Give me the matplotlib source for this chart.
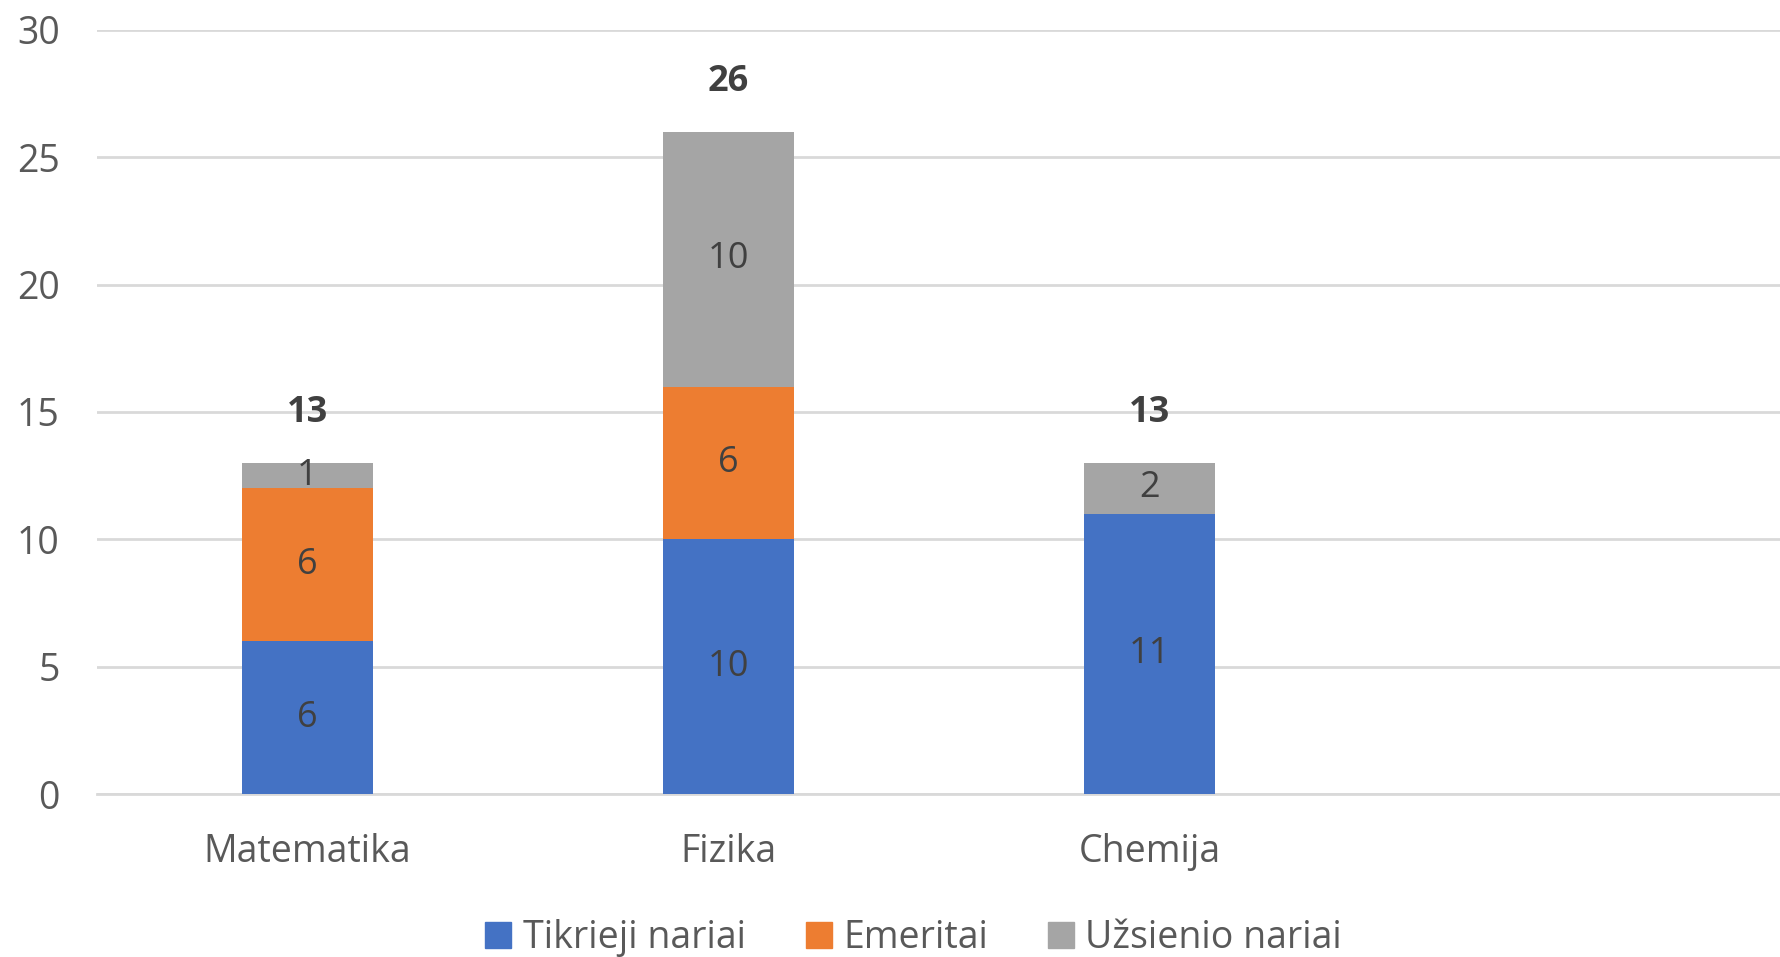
import numpy as np
import matplotlib.pyplot as plt
from matplotlib.patches import Patch

# Datos
kategorijos = ['Matematika', 'Fizika', 'Chemija', '']
tikrieji = [6, 10, 11, 0]
emeritai = [6, 6, 0, 0]
uzsienio = [1, 10, 2, 0]
serijos = ['Tikrieji nariai', 'Emeritai', 'Užsienio nariai']
spalvos = ['#4472C4', '#ED7D31', '#A5A5A5']

plt.rcParams['font.family'] = ['Open Sans', 'DejaVu Sans']

fig = plt.figure(figsize=(17.81, 9.57), dpi=100)
ax = fig.add_axes([0.0545, 0.1703, 0.9455, 0.7984])

x = np.arange(len(kategorijos))
w = 0.313
duomenys = [tikrieji, emeritai, uzsienio]
apacia = np.zeros(len(kategorijos))
for vals, sp in zip(duomenys, spalvos):
    vals = np.array(vals, dtype=float)
    bars = ax.bar(x, vals, w, bottom=apacia, color=sp, zorder=3)
    for b, v, a in zip(bars, vals, apacia):
        if v > 0:
            ax.text(b.get_x() + b.get_width() / 2, a + v / 2, f'{int(v)}',
                    ha='center', va='center', fontsize=26, color='#404040', zorder=4)
    apacia += vals

for xi, t in zip(x, apacia):
    if t > 0:
        ax.annotate(f'{int(t)}', (xi, t), xytext=(0, 36), textcoords='offset points',
                    ha='center', va='center', fontsize=26, fontweight='bold', color='#404040')

ax.set_xlim(-0.5, len(kategorijos) - 0.5)
ax.set_ylim(0, 30)
ax.set_yticks(range(0, 31, 5))
ax.set_xticks(x)
ax.set_xticklabels(kategorijos)
ax.tick_params(axis='both', length=0, labelsize=27, labelcolor='#595959')
ax.tick_params(axis='y', pad=27)
ax.tick_params(axis='x', pad=28)
ax.grid(axis='y', color='#D9D9D9', linewidth=2, zorder=0)
for s in ['top', 'right', 'left']:
    ax.spines[s].set_visible(False)
ax.spines['bottom'].set_color('#D9D9D9')
ax.spines['bottom'].set_linewidth(2)

rankenos = [Patch(color=c, label=l) for c, l in zip(spalvos, serijos)]
fig.legend(handles=rankenos, loc='center', bbox_to_anchor=(0.513, 0.02), ncol=3,
           frameon=False, fontsize=27, labelcolor='#595959', handlelength=0.7,
           handleheight=0.7, handletextpad=0.3, columnspacing=1.6)

fig.savefig('out.png', dpi=100)
